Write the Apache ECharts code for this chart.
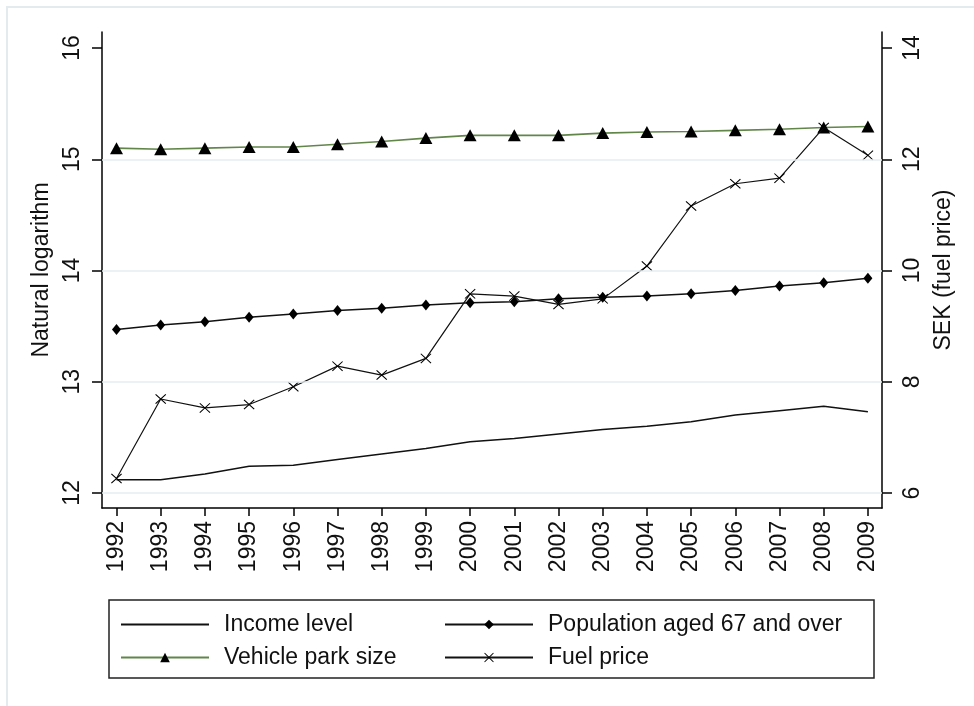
<!DOCTYPE html>
<html>
<head>
<meta charset="utf-8">
<script src="https://cdn.jsdelivr.net/npm/echarts@6/dist/echarts.min.js"></script>
<style>
  html, body { margin: 0; padding: 0; background: #ffffff; }
  #chart { width: 974px; height: 706px; }
</style>
</head>
<body>
<div id="chart"></div>
<script>
// Yearly series, 1992-2009
const years = [1992, 1993, 1994, 1995, 1996, 1997, 1998, 1999, 2000,
               2001, 2002, 2003, 2004, 2005, 2006, 2007, 2008, 2009];

// Natural logarithms (left axis)
const incomeLevel = [12.12, 12.12, 12.17, 12.24, 12.25, 12.30, 12.35, 12.40, 12.46,
                     12.49, 12.53, 12.57, 12.60, 12.64, 12.70, 12.74, 12.78, 12.73];
const populationOver67 = [13.47, 13.51, 13.54, 13.58, 13.61, 13.64, 13.66, 13.69, 13.71,
                          13.72, 13.745, 13.76, 13.77, 13.79, 13.82, 13.86, 13.89, 13.93];
const vehiclePark = [15.10, 15.09, 15.10, 15.11, 15.11, 15.135, 15.16, 15.19, 15.215,
                     15.215, 15.215, 15.235, 15.245, 15.25, 15.26, 15.27, 15.285, 15.295];

// Fuel price in SEK (right axis)
const fuelPrice = [6.26, 7.69, 7.53, 7.59, 7.91, 8.28, 8.12, 8.42, 9.58,
                   9.54, 9.39, 9.49, 10.08, 11.16, 11.56, 11.66, 12.57, 12.07];

// Tick labels
const leftTicks = [12, 13, 14, 15, 16];
const rightTicks = [6, 8, 10, 12, 14];
const gridValues = [12, 13, 14, 15];

const FONT = '"Liberation Sans", Arial, sans-serif';
const INK = '#111111';
const GREEN = '#62864a';
const FS = 23;

function pairs(vals) { return years.map((y, i) => [y, vals[i]]); }

// thin "x" marker outline
const crossPath = 'path://M0,0.7L0.7,0L5,4.3L9.3,0L10,0.7L5.7,5L10,9.3L9.3,10L5,5.7L0.7,10L0,9.3L4.3,5Z';

const axisLine = { show: true, lineStyle: { color: '#000', width: 1.5 } };
const tickStyle = { color: '#000', width: 1.5 };

const chart = echarts.init(document.getElementById('chart'), null, { renderer: 'canvas' });

const legendText = { fontSize: FS, fontFamily: FONT, color: INK, padding: [0, 0, 0, 10] };

chart.setOption({
  animation: false,
  backgroundColor: '#ffffff',
  textStyle: { fontFamily: FONT, color: INK },
  grid: { left: 102, right: 92, top: 32, bottom: 198, containLabel: false },
  xAxis: {
    type: 'value',
    min: 1991.672,
    max: 2009.319,
    axisLine: axisLine,
    axisTick: { show: true, customValues: years, length: 8, lineStyle: tickStyle },
    axisLabel: {
      customValues: years, rotate: 90, margin: 13,
      fontSize: FS, fontFamily: FONT, color: INK,
      formatter: v => String(v)
    },
    splitLine: { show: false }
  },
  yAxis: [
    {
      type: 'value', position: 'left',
      min: 11.865, max: 16.144,
      name: 'Natural logarithm', nameLocation: 'middle', nameGap: 36,
      nameTextStyle: { fontSize: FS, fontFamily: FONT, color: INK },
      axisLine: axisLine,
      axisTick: { show: true, customValues: leftTicks, length: 10, lineStyle: tickStyle },
      axisLabel: { customValues: leftTicks, rotate: 90, margin: 18, fontSize: FS, fontFamily: FONT, color: INK },
      splitLine: { show: false }
    },
    {
      type: 'value', position: 'right',
      min: 5.730, max: 14.288,
      name: 'SEK (fuel price)', nameLocation: 'middle', nameGap: 36,
      nameTextStyle: { fontSize: FS, fontFamily: FONT, color: INK },
      axisLine: axisLine,
      axisTick: { show: true, customValues: rightTicks, length: 10, lineStyle: tickStyle },
      axisLabel: { customValues: rightTicks, rotate: 90, margin: 19, fontSize: FS, fontFamily: FONT, color: INK },
      splitLine: { show: false }
    }
  ],
  legend: [
    {
      data: [
        { name: 'Income level', itemStyle: { opacity: 0 } },
        { name: 'Vehicle park size' }
      ],
      orient: 'vertical', left: 120, top: 613,
      itemWidth: 88, itemHeight: 12, itemGap: 10, padding: 0,
      selectedMode: false,
      textStyle: legendText
    },
    {
      data: ['Population aged 67 and over', 'Fuel price'],
      orient: 'vertical', left: 444, top: 613,
      itemWidth: 88, itemHeight: 12, itemGap: 10, padding: 0,
      selectedMode: false,
      textStyle: legendText
    }
  ],
  graphic: [
    {
      type: 'rect', silent: true, z: -10,
      shape: { x: 7, y: 7, width: 1100, height: 1100 },
      style: { fill: 'none', stroke: '#e3ebee', lineWidth: 2 }
    },
    {
      type: 'rect', silent: true,
      shape: { x: 109, y: 600, width: 765, height: 78 },
      style: { fill: 'none', stroke: '#222', lineWidth: 1.5 }
    }
  ],
  series: [
    {
      name: 'Income level', type: 'line', yAxisIndex: 0,
      data: pairs(incomeLevel),
      symbol: 'none', showSymbol: false,
      lineStyle: { color: INK, width: 1.5 },
      itemStyle: { color: INK },
      markLine: {
        silent: true, symbol: 'none', animation: false,
        label: { show: false },
        lineStyle: { color: '#e6eef0', width: 1.5, type: 'solid' },
        data: gridValues.map(v => ({ yAxis: v }))
      },
      z: 3
    },
    {
      name: 'Population aged 67 and over', type: 'line', yAxisIndex: 0,
      data: pairs(populationOver67),
      symbol: 'diamond', symbolSize: [9, 11], showSymbol: true,
      lineStyle: { color: INK, width: 1.5 },
      itemStyle: { color: '#000' },
      z: 3
    },
    {
      name: 'Vehicle park size', type: 'line', yAxisIndex: 0,
      data: pairs(vehiclePark),
      symbol: 'triangle', symbolSize: [13, 12], showSymbol: true,
      lineStyle: { color: GREEN, width: 1.6 },
      itemStyle: { color: '#000' },
      z: 3
    },
    {
      name: 'Fuel price', type: 'line', yAxisIndex: 1,
      data: pairs(fuelPrice),
      symbol: crossPath, symbolSize: [11, 10], showSymbol: true,
      lineStyle: { color: INK, width: 1.2 },
      itemStyle: { color: '#000' },
      z: 4
    }
  ]
});
</script>
</body>
</html>
